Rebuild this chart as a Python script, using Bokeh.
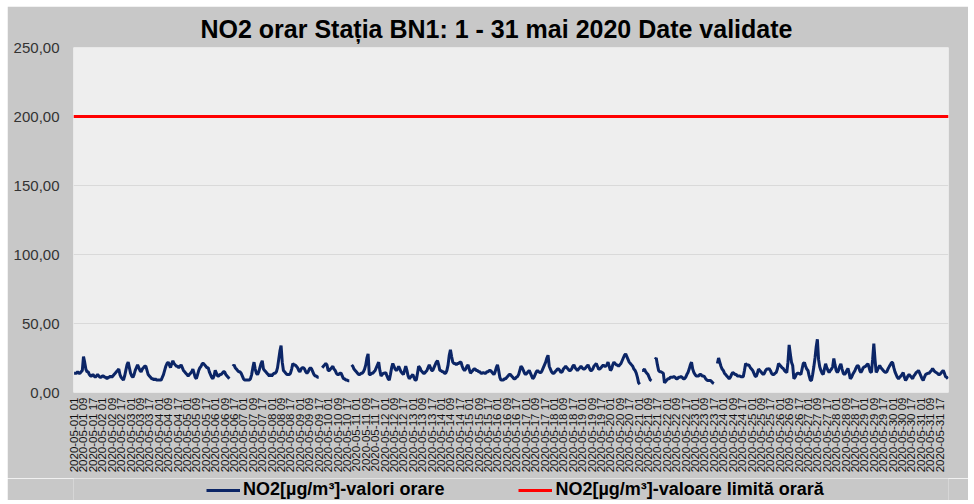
import math
from bokeh.plotting import figure
from bokeh.layouts import column
from bokeh.models import FixedTicker, Legend, LegendItem
from bokeh.embed import file_html
from bokeh.resources import INLINE

NaN = float("nan")

# Hourly NO2 values (µg/m³), station BN1, 1-31 May 2020 (hour 01 .. 24 each day)
day01 = [14, 14, 14, 15, 14, 14, 15, 16, 26, 22, 17, 15, 15, 13, 12, 12, 13, 12, 11, 12, 13, 12, 11, 11]
day02 = [12, 12, 11, 11, 10, 11, 11, 12, 11, 12, 13, 14, 15, 16, 17, 13, 11, 10, 9, 12, 16, 20, 22, 18]
day03 = [14, 12, 11, 13, 16, 18, 20, 18, 16, 15, 17, 18, 19, 19, 16, 13, 12, 11, 10, 10, 9, 10, 9, 9]
day04 = [9, 9, 9, 11, 13, 16, 19, 21, 22, 20, 18, 21, 23, 21, 20, 19, 19, 18, 19, 20, 18, 16, 15, 14]
day05 = [13, 12, 13, 14, 15, 17, 14, 11, 10, 13, 16, 18, 19, 21, 21, 20, 19, 18, 18, 15, 13, 11, 10, 12]
day06 = [16, 14, 12, 12, 13, 13, 14, 15, 15, 13, 12, 11, 10, NaN, NaN, 19, 20, 18, 17, 16, 15, 15, 14, 12]
day07 = [10, 9, 9, 9, 9, 9, 10, 13, 18, 22, 17, 14, 13, 15, 18, 21, 23, 17, 16, 15, 14, 13, 12, 13]
day08 = [12, 13, 14, 14, 15, 18, 24, 30, 34, 22, 16, 15, 14, 13, 13, 13, 14, 17, 21, 20, 20, 19, 18, 16]
day09 = [15, 17, 18, 18, 17, 15, 14, 15, 17, 18, 17, 15, 13, 12, 12, 11, 11, NaN, NaN, 18, 19, 20, 21, 20]
day10 = [16, 16, 17, 18, 19, 17, 16, 14, 13, 13, 14, 14, 12, 10, 10, 9, 9, 8.5, 8.5, NaN, 20, 19, 17, 16]
day11 = [15, 14, 13, 13, 14, 14, 15, 17, 20, 25, 28, 13, 13, 14, 14, 15, 16, 18, 20, 22, 16, 12, 13, 14]
day12 = [14, 14.5, 12, 10, 9, 13, 18, 21, 19, 17, 16, 17, 19, 17, 15, 14, 13, 16, 19, 16, 12, 10, 11, 12]
day13 = [13, 11, 9, 9, 14, 19, 18, 16, 15, 14, 14, 15, 16, 18, 20, 18, 16, 16, 18, 20, 22, 23, 20, 16]
day14 = [16, 15, 15, 14, 14, 16, 20, 27, 31, 26, 22, 21, 21, 20, 21, 21, 22, 22, 19, 17, 16, 17, 19, 20]
day15 = [17, 14, 15, 16, 17, 17, 16, 16, 15, 15, 14, 14, 14.5, 14, 14, 15, 15, 16, 16, 15, 14, 13, 15, 18]
day16 = [20, 16, 11, 9, 9, 9, 10, 10, 11, 12, 13, 13, 12, 11, 10, 10, 11, 11.5, 13, 16, 19, 18, 16, 14]
day17 = [13, 14, 15, 16, 14, 12, 10, 11, 13, 15, 16, 15, 14.5, 14.5, 16, 18, 20, 22, 25, 27, 19, 17, 15, 14]
day18 = [14, 15, 16, 17, 17, 16, 14.5, 15, 17, 18, 19, 18, 17, 16, 16, 17, 19, 20, 18, 17, 16, 17, 18, 19]
day19 = [18, 17, 17, 18, 19, 20, 18, 16, 16, 17, 19, 20, 21, 19, 17, 17, 18, 19, 20, 19, 19, 20, 22, 19]
day20 = [16, 17, 20, 22, 21, 20, 20, 19, 20, 21, 23, 25, 27, 28, 26, 24, 22, 21, 20, 19, 17, 16, 14, 11]
day21 = [7, 6, NaN, 16, 16, 17, 15, 14, 13, 11, 9, 8.5, NaN, NaN, 24, 25, 20, 16, 15, 15, 14.5, 14, 7, 8]
day22 = [9, 10, 10, 11, 11, 11, 11.5, 11, 10, 10, 11, 11, 11.5, 11, 10, 10, 11, 13, 14.5, 17, 20, 22, 17, 14.5]
day23 = [13, 12, 12, 12, 13, 13, 12, 12, 11.5, 10, 9, 8.7, 8.7, 8.7, 8, 7, 6.5, NaN, NaN, 21, 25, 22, 19, 17]
day24 = [16, 14, 13, 12, 11, 10, 11, 13, 14.5, 14, 13, 13, 12, 12, 12, 11.5, 11.5, 11.5, 16, 21, 20, 20, 19.6, 18]
day25 = [17, 16, 14, 12, 11.5, 14, 17, 16, 15, 14, 13, 14, 16, 17, 17, 17.4, 16, 14, 13, 13, 14, 14.5, 17, 21]
day26 = [20, 19, 18, 17.4, 16, 15, 14.5, 22, 34.5, 28, 22, 19.6, 10, 11, 13, 14, 14, 13.5, 13, 17, 21, 21.7, 19, 17]
day27 = [16, 12, 9, 8.7, 13, 18.6, 25, 33, 38.6, 24, 18.6, 16, 14, 13, 17, 20.8, 18, 16, 14.5, 16, 17, 18.6, 24.6, 20]
day28 = [16, 14.5, 16, 19, 20.8, 17, 14, 13, 14, 16, 17.4, 14, 10, 11, 13, 14.5, 16, 18, 19.6, 19, 16, 14.5, 16, 18]
day29 = [18.6, 19, 20, 20.8, 18, 15, 14.5, 24, 35.5, 24, 14.5, 16, 18, 19.6, 18, 17, 16, 15, 14.5, 15, 17, 18.6, 20, 21.7]
day30 = [21.7, 18, 15, 13, 11, 10, 11, 12, 13, 14.5, 11, 8.7, 10, 12, 13, 12, 11, 10, 12, 13, 14.5, 15, 16, 14]
day31 = [12, 10, 8.7, 11, 13, 13.5, 14, 14, 15, 16, 17.4, 16, 15, 14.5, 14, 13, 13, 14, 15, 16, 14, 11.5, 11, 10]

days = [day01, day02, day03, day04, day05, day06, day07, day08, day09, day10,
        day11, day12, day13, day14, day15, day16, day17, day18, day19, day20,
        day21, day22, day23, day24, day25, day26, day27, day28, day29, day30, day31]

no2 = [v for d in days for v in d]
limit_value = 200
hours = list(range(len(no2)))

series_names = ["NO2[\u00b5g/m\u00b3]-valori orare", "NO2[\u00b5g/m\u00b3]-valoare limită orară"]

# tick labels: every 8 hours starting at 01
tick_positions = list(range(0, len(no2), 8))
tick_labels = {i: "2020-05-%02d %02d" % (i // 24 + 1, i % 24 + 1) for i in tick_positions}

y_ticks = [0, 50, 100, 150, 200, 250]
y_labels = {0: "0,00", 50: "50,00", 100: "100,00", 150: "150,00", 200: "200,00", 250: "250,00"}

FONT = "Liberation Sans"
GRAY = "#c8c8c8"
NAVY = "#0b2566"
RED = "#ff0000"

p = figure(frame_width=875, frame_height=345, min_border_left=66, min_border_right=20,
           min_border_top=41, min_border_bottom=86,
           x_range=(-0.5, len(no2) - 0.5), y_range=(0, 250),
           output_backend="svg", toolbar_location=None,
           title="NO2 orar Stația BN1: 1 - 31 mai 2020 Date validate")
p.margin = (6, 6, 0, 7)

p.background_fill_color = "#eeeeee"
p.border_fill_color = GRAY
p.outline_line_color = None

p.title.align = "left"
p.title.offset = 127
p.title.text_font = FONT
p.title.text_font_size = "25px"
p.title.text_font_style = "bold"
p.title.text_color = "#000000"
p.title.standoff = 10

# y axis
p.yaxis.ticker = FixedTicker(ticks=y_ticks)
p.yaxis.major_label_overrides = y_labels
p.yaxis.axis_line_color = None
p.yaxis.major_tick_line_color = None
p.yaxis.minor_tick_line_color = None
p.yaxis.major_tick_out = 0
p.yaxis.major_tick_in = 0
p.yaxis.major_label_standoff = 14
p.yaxis.major_label_text_font = FONT
p.yaxis.major_label_text_font_size = "15px"
p.yaxis.major_label_text_color = "#333333"

# x axis
p.xaxis.ticker = FixedTicker(ticks=tick_positions)
p.xaxis.major_label_overrides = tick_labels
p.xaxis.major_label_orientation = math.pi / 2
p.xaxis.axis_line_color = None
p.xaxis.major_tick_line_color = None
p.xaxis.minor_tick_line_color = None
p.xaxis.major_tick_out = 0
p.xaxis.major_tick_in = 0
p.xaxis.major_label_standoff = 5
p.xaxis.major_label_text_font = FONT
p.xaxis.major_label_text_font_size = "11.5px"
p.xaxis.major_label_text_color = "#111111"

p.xgrid.grid_line_color = None
p.ygrid.grid_line_color = "#d9d9d9"
p.ygrid.grid_line_width = 1

p.line(hours, no2, line_color=NAVY, line_width=3)
p.line([-0.5, len(no2) - 0.5], [limit_value, limit_value], line_color=RED, line_width=3)

# legend strip below the chart
lg = figure(width=961, height=22, x_range=(0, 1), y_range=(0, 1),
            x_axis_location=None, y_axis_location=None,
            min_border=0, output_backend="svg", toolbar_location=None)
lg.margin = (0, 6, 4, 7)
lg.background_fill_color = GRAY
lg.border_fill_color = GRAY
lg.outline_line_color = None
lg.grid.visible = False
# legend sample glyphs (drawn outside the visible range; only their legend swatches show)
g1 = lg.line([5, 6], [5, 6], line_color=NAVY, line_width=3)
g2 = lg.line([5, 6], [5, 6], line_color=RED, line_width=3)

legend = Legend(items=[LegendItem(label=series_names[0], renderers=[g1]),
                       LegendItem(label=series_names[1], renderers=[g2])],
                orientation="horizontal", location=(133, 0))
legend.background_fill_alpha = 0
legend.border_line_color = None
legend.label_text_font = FONT
legend.label_text_font_size = "18px"
legend.label_text_font_style = "bold"
legend.label_text_color = "#000000"
legend.glyph_width = 34
legend.glyph_height = 20
legend.label_height = 20
legend.label_standoff = 3
legend.spacing = 74
legend.padding = 1
legend.margin = 0
lg.add_layout(legend, "center")

layout = column(p, lg, spacing=0)
open("out.html", "w").write(file_html(layout, INLINE))
